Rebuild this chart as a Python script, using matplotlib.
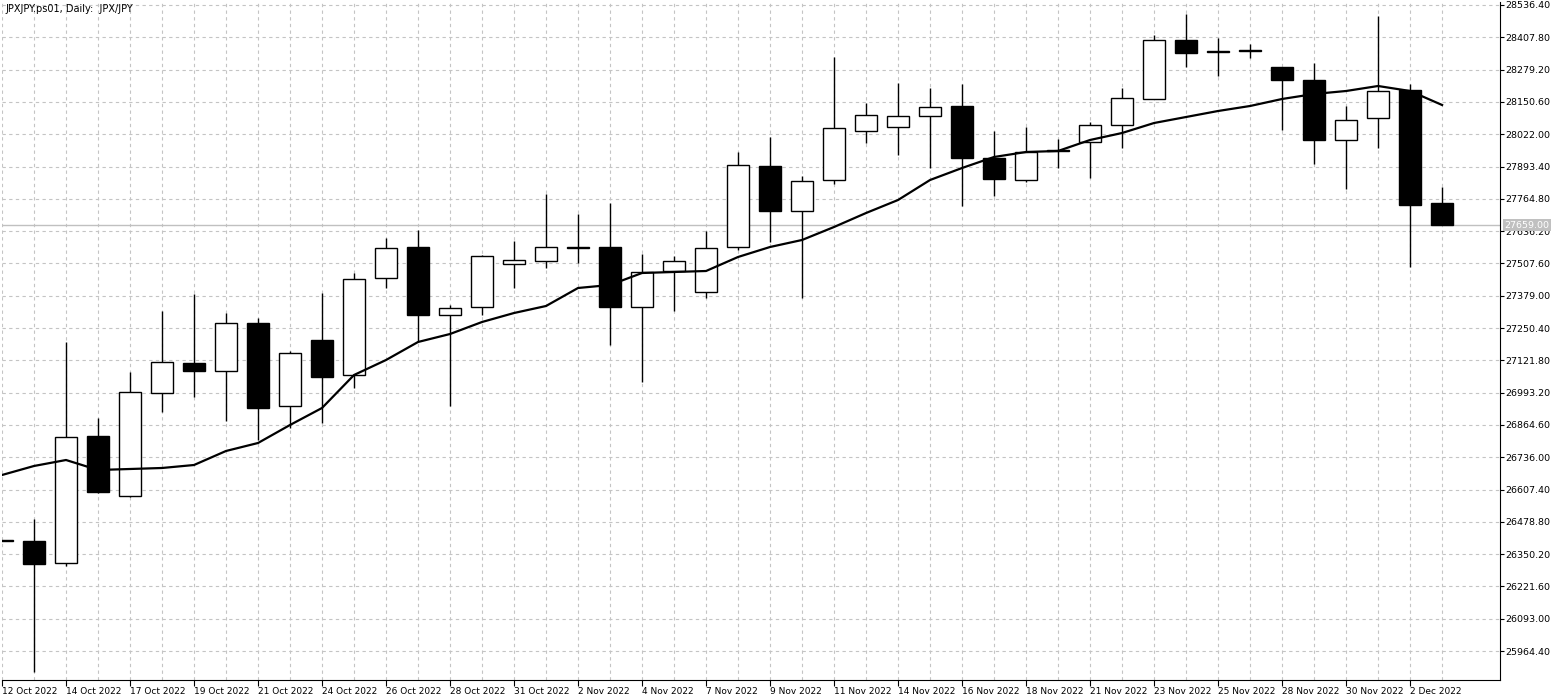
import matplotlib
matplotlib.use("Agg")
import matplotlib.pyplot as plt
from matplotlib.patches import Rectangle

opens  = [26402.6,26402.6,26315.0,26820.6,26581.7,26991.8,27111.2,27079.4,27270.4,26940.0,
          27202.8,27063.4,27449.6,27573.0,27302.3,27334.1,27505.3,27517.3,27569.0,27573.0,
          27334.1,27477.4,27393.8,27573.0,27895.5,27716.3,27839.7,28034.8,28050.7,28094.5,
          28134.3,27927.3,27839.7,27955.2,27991.0,28058.7,28162.2,28397.1,28349.3,28353.3,
          28289.6,28237.8,27999.0,28086.5,28198.0,27748.2]
highs  = [26404.0,26490.2,27194.8,26892.2,27075.4,27318.2,27385.9,27310.2,27290.3,27159.0,
          27389.9,27469.5,27608.8,27640.7,27342.1,27541.1,27596.9,27784.0,27704.4,27748.2,
          27545.1,27537.2,27636.7,27951.2,28010.9,27855.6,28329.4,28146.3,28225.9,28206.0,
          28221.9,28034.8,28050.7,28002.9,28070.6,28206.0,28417.0,28500.6,28405.0,28381.1,
          28289.6,28305.5,28134.3,28492.6,28221.9,27811.9]
lows   = [26401.0,25881.1,26303.1,26593.7,26577.7,26916.1,26975.8,26880.3,26804.7,26852.4,
          26872.3,27011.7,27409.8,27198.8,26940.0,27302.3,27409.8,27489.4,27509.3,27182.9,
          27035.6,27318.2,27370.0,27561.0,27592.9,27370.0,27823.8,27987.0,27939.2,27887.5,
          27736.2,27776.0,27831.8,27887.5,27847.7,27967.1,28162.2,28289.6,28253.7,28325.4,
          28038.8,27903.4,27803.9,27967.1,27493.4,27659.0]
closes = [26402.6,26311.0,26816.6,26597.6,26995.7,27115.2,27079.4,27270.4,26932.1,27151.0,
          27055.5,27445.6,27569.0,27302.3,27330.2,27537.2,27521.2,27573.0,27570.0,27334.1,
          27473.5,27517.3,27569.0,27899.4,27716.3,27835.7,28046.7,28098.5,28094.5,28130.3,
          27927.3,27843.7,27951.2,27955.2,28058.7,28166.2,28397.1,28345.3,28349.3,28353.3,
          28237.8,27999.0,28078.6,28194.0,27740.2,27659.0]
ma     = [26665.3,26701.2,26725.0,26685.2,26689.2,26693.2,26705.1,26760.9,26792.7,26864.4,
          26932.1,27063.4,27123.1,27194.8,27226.6,27274.4,27310.2,27338.1,27409.8,27421.7,
          27469.5,27473.5,27477.4,27533.2,27573.0,27600.9,27652.6,27708.3,27760.1,27839.7,
          27887.5,27931.3,27951.2,27955.2,27999.0,28026.8,28066.6,28090.5,28114.4,28134.3,
          28162.2,28182.1,28194.0,28213.9,28194.0,28138.3]
date_labels = ["12 Oct 2022","14 Oct 2022","17 Oct 2022","19 Oct 2022","21 Oct 2022","24 Oct 2022",
               "26 Oct 2022","28 Oct 2022","31 Oct 2022","2 Nov 2022","4 Nov 2022","7 Nov 2022",
               "9 Nov 2022","11 Nov 2022","14 Nov 2022","16 Nov 2022","18 Nov 2022","21 Nov 2022",
               "23 Nov 2022","25 Nov 2022","28 Nov 2022","30 Nov 2022","2 Dec 2022"]
price_ticks = [28536.40,28407.80,28279.20,28150.60,28022.00,27893.40,27764.80,27636.20,27507.60,
               27379.00,27250.40,27121.80,26993.20,26864.60,26736.00,26607.40,26478.80,26350.20,
               26221.60,26093.00,25964.40]
last_price = 27659.00
title = "JPXJPY.ps01, Daily:  JPX/JPY"

W, H = 1558, 698
fig = plt.figure(figsize=(W/100, H/100), dpi=100)
ax = fig.add_axes([2/W, 1-680/H, (1500-2)/W, (680-2)/H])
ax.set_xlim(0.0, 46.81)
ax.set_ylim(25849.2, 28548.3)

for p in price_ticks:
    ax.axhline(p, color="#c4c4c4", lw=0.8, ls=(0, (3, 3)), zorder=0)
for i in range(len(opens)):
    ax.axvline(i, color="#c4c4c4", lw=0.8, ls=(0, (3, 3)), zorder=0)

ax.axhline(last_price, color="#c0c0c0", lw=1, zorder=1)

bw = 0.69
for i, (o, h, l, c) in enumerate(zip(opens, highs, lows, closes)):
    ax.plot([i, i], [l, h], color="black", lw=1, zorder=2, solid_capstyle="butt")
    bottom = min(o, c); height = max(abs(c - o), 2.0)
    fc = "black" if c < o else "white"
    ax.add_patch(Rectangle((i - bw/2, bottom), bw, height, facecolor=fc,
                           edgecolor="black", lw=1, zorder=3))

ax.plot(range(len(ma)), ma, color="black", lw=1.6, zorder=4)

for s in ["top", "left"]:
    ax.spines[s].set_visible(False)
ax.yaxis.tick_right()
ax.set_yticks(price_ticks)
ax.set_yticklabels([f"{p:.2f}" for p in price_ticks], fontsize=6.8, color="black")
ax.tick_params(axis="y", length=3, width=0.8, pad=1)
ax.set_xticks(range(0, len(opens), 2))
ax.set_xticklabels(date_labels, fontsize=6.5, ha="left", color="black")
ax.tick_params(axis="x", length=4, width=0.8, pad=1)

ax.text(1.003, (last_price - 25849.2) / (28548.3 - 25849.2), f"{last_price:.2f}",
        transform=ax.transAxes, fontsize=6.8, color="white", va="center", ha="left",
        bbox=dict(boxstyle="square,pad=0.15", fc="#c0c0c0", ec="none"), zorder=10, clip_on=False)

fig.text(5/W, 1-9/H, title, fontsize=7, va="center", ha="left")
fig.savefig("out.png", dpi=100, facecolor="white")
